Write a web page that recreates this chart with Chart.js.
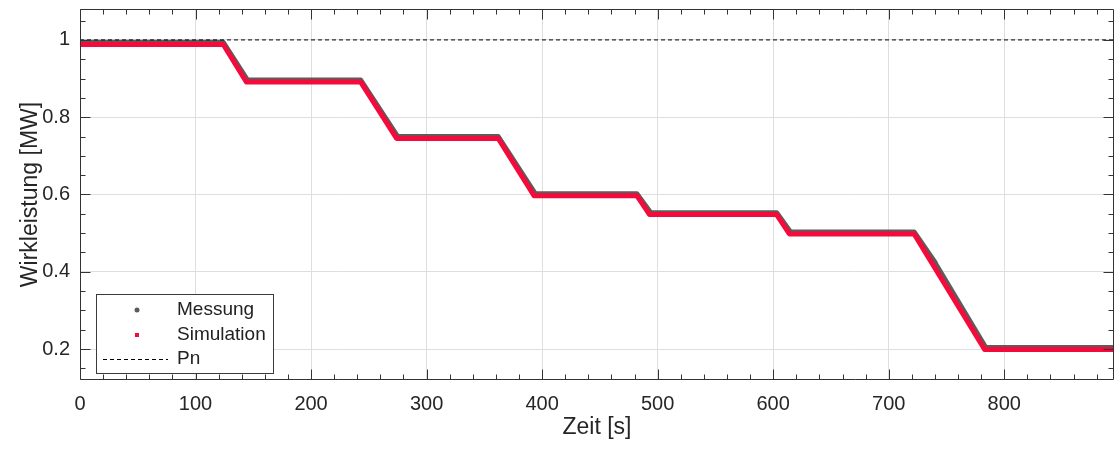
<!DOCTYPE html>
<html>
<head>
<meta charset="utf-8">
<title>Wirkleistung</title>
<script src="https://cdn.jsdelivr.net/npm/chart.js@4.4.1/dist/chart.umd.min.js"></script>
<style>
  html, body { margin: 0; padding: 0; background: #fff; }
  #wrap { width: 1115px; height: 450px; position: relative; }
</style>
</head>
<body>
<div id="wrap"><canvas id="power-chart"></canvas></div>
<script>
const FONT = "'Liberation Sans', Arial, sans-serif";

// step breakpoints (time in s, power in MW)
const simTime  = [0, 124, 144, 243, 274, 362, 393, 482, 493, 603, 614, 722, 783, 895];
const simPower = [0.988, 0.988, 0.891, 0.891, 0.745, 0.745, 0.597, 0.597, 0.548, 0.548, 0.498, 0.498, 0.199, 0.199];

const measTime  = [0, 124, 145, 243, 275, 362, 394, 482, 494, 603, 615, 722, 740, 741, 784, 895];
const measPower = [0.994, 0.994, 0.896, 0.896, 0.750, 0.750, 0.602, 0.602, 0.553, 0.553, 0.503, 0.503, 0.425, 0.419, 0.204, 0.204];

const pnTime  = [0, 895];
const pnPower = [1, 1];

const xTicks = [0, 100, 200, 300, 400, 500, 600, 700, 800];
const yTicks = [0.2, 0.4, 0.6, 0.8, 1];

const labels = ['Messung', 'Simulation', 'Pn'];

const GRAY = '#5c5c5c';
const RED = '#f50a3c';
const AXIS = '#333333';

function toPoints(xs, ys) {
  return xs.map((x, i) => ({x: x, y: ys[i]}));
}

// inward major/minor ticks on all four sides, frame and the legend box
const framePlugin = {
  id: 'frame',
  afterDraw(chart) {
    const ctx = chart.ctx;
    const area = chart.chartArea;
    const xs = chart.scales.x;
    const ys = chart.scales.y;
    const l = Math.round(area.left) + 0.5;
    const r = Math.round(area.right) - 0.5;
    const t = Math.round(area.top) + 0.5;
    const b = Math.round(area.bottom) - 0.5;

    ctx.save();
    ctx.strokeStyle = AXIS;
    ctx.lineWidth = 1;
    ctx.beginPath();
    ctx.rect(l, t, r - l, b - t);
    ctx.stroke();

    ctx.beginPath();
    for (let v = xs.min; v <= xs.max + 1e-9; v += 20) {
      const px = Math.round(xs.getPixelForValue(v)) + 0.5;
      const len = (Math.round(v) % 100 === 0) ? 10 : 5;
      ctx.moveTo(px, b); ctx.lineTo(px, b - len);
      ctx.moveTo(px, t); ctx.lineTo(px, t + len);
    }
    for (let k = 3; k <= 21; k++) {
      const v = k * 0.05;
      if (v < ys.min || v > ys.max) continue;
      const py = Math.round(ys.getPixelForValue(v)) + 0.5;
      const len = (k % 4 === 0) ? 10 : 5;
      ctx.moveTo(l, py); ctx.lineTo(l + len, py);
      ctx.moveTo(r, py); ctx.lineTo(r - len, py);
    }
    ctx.stroke();

    // legend
    const bx = 96.5, by = 294.5, bw = 177, bh = 79;
    ctx.fillStyle = '#ffffff';
    ctx.fillRect(bx, by, bw, bh);
    ctx.strokeStyle = '#3a3a3a';
    ctx.strokeRect(bx, by, bw, bh);

    const rows = [310, 335, 359];
    ctx.fillStyle = GRAY;
    ctx.beginPath();
    ctx.arc(137, rows[0], 2.5, 0, Math.PI * 2);
    ctx.fill();
    ctx.fillStyle = RED;
    ctx.fillRect(135, rows[1] - 2, 4, 4);
    ctx.strokeStyle = '#000000';
    ctx.setLineDash([4, 3]);
    ctx.beginPath();
    ctx.moveTo(103, rows[2] + 0.5);
    ctx.lineTo(168, rows[2] + 0.5);
    ctx.stroke();
    ctx.setLineDash([]);

    ctx.fillStyle = '#222222';
    ctx.font = '19px ' + FONT;
    ctx.textBaseline = 'middle';
    ctx.textAlign = 'left';
    labels.forEach((txt, i) => ctx.fillText(txt, 177, rows[i]));
    ctx.restore();
  }
};

const ctx = document.getElementById('power-chart');
const powerChart = new Chart(ctx, {
  type: 'scatter',
  data: {
    datasets: [{
      label: labels[0],
      data: toPoints(measTime, measPower),
      showLine: true,
      borderColor: GRAY,
      borderWidth: 5,
      borderJoinStyle: 'round',
      pointRadius: 0,
      order: 3
    }, {
      label: labels[1],
      data: toPoints(simTime, simPower),
      showLine: true,
      borderColor: RED,
      borderWidth: 5,
      borderJoinStyle: 'round',
      pointRadius: 0,
      order: 2
    }, {
      label: labels[2],
      data: toPoints(pnTime, pnPower),
      showLine: true,
      borderColor: '#000000',
      borderWidth: 1,
      borderDash: [4, 3],
      pointRadius: 0,
      order: 1
    }]
  },
  options: {
    responsive: true,
    maintainAspectRatio: false,
    animation: false,
    layout: {
      padding: {top: 9, right: 1, bottom: 5, left: 13}
    },
    scales: {
      x: {
        type: 'linear',
        min: 0,
        max: 895,
        afterBuildTicks: scale => { scale.ticks = xTicks.map(v => ({value: v})); },
        afterFit: scale => { scale.height = 65; },
        grid: {
          color: '#dedede',
          drawTicks: false
        },
        border: { display: false },
        ticks: {
          padding: 12,
          color: '#262626',
          font: { family: FONT, size: 20 },
          maxRotation: 0,
          callback: v => String(v)
        },
        title: {
          display: true,
          text: 'Zeit [s]',
          color: '#262626',
          font: { family: FONT, size: 23 }
        }
      },
      y: {
        type: 'linear',
        min: 0.12,
        max: 1.08,
        afterBuildTicks: scale => { scale.ticks = yTicks.map(v => ({value: v})); },
        afterFit: scale => {
          scale.width = 67;
          scale.paddingTop = 0;
          scale.paddingBottom = 0;
        },
        grid: {
          color: '#dedede',
          drawTicks: false
        },
        border: { display: false },
        ticks: {
          padding: 10,
          color: '#262626',
          font: { family: FONT, size: 20 },
          callback: v => String(+v.toFixed(2))
        },
        title: {
          display: true,
          text: 'Wirkleistung [MW]',
          color: '#262626',
          font: { family: FONT, size: 23 }
        }
      }
    },
    plugins: {
      legend: { display: false },
      tooltip: { enabled: false }
    }
  },
  plugins: [framePlugin]
});
</script>
</body>
</html>
